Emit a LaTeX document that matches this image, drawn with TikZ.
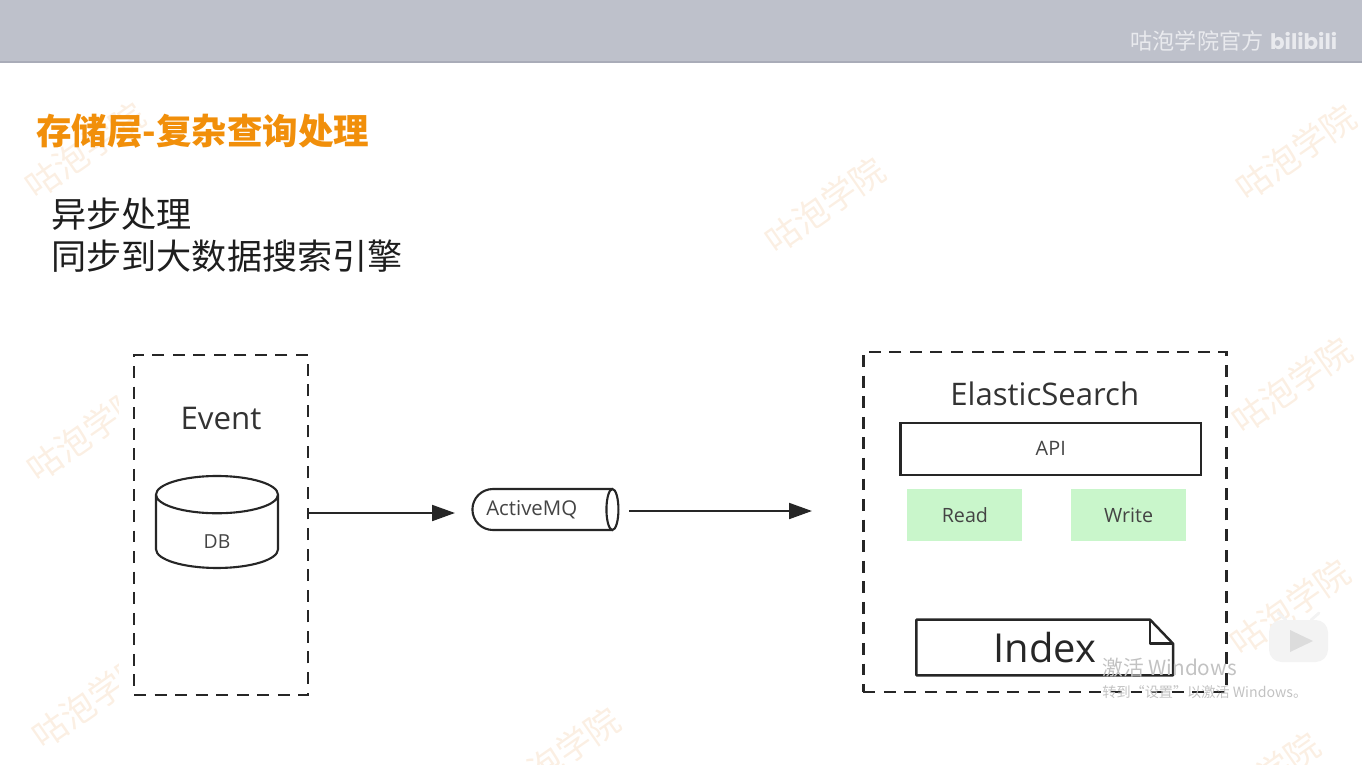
\documentclass[tikz,border=0pt]{standalone}
\usepackage{fontspec}
\setmainfont{Open Sans}
\newfontfamily\cjk{Noto Sans CJK SC}
\newfontfamily\logofont{Poppins}
\usepackage{xcolor}
\definecolor{cBand}  {HTML}{BEC1CB}
\definecolor{cEdge}  {HTML}{A9ACB8}
\definecolor{cPale}  {HTML}{E9EAEE}
\definecolor{cTitle} {HTML}{F18F0A}
\definecolor{cInk}   {HTML}{1E1E1E}
\definecolor{cLine}  {HTML}{262626}
\definecolor{cHead}  {HTML}{333333}
\definecolor{cText}  {HTML}{444444}
\definecolor{cGreen} {HTML}{C9F6CB}
\definecolor{cMark}  {HTML}{FBEFE3}
\definecolor{cActiv} {HTML}{C2C2C2}
\definecolor{cIcon}  {HTML}{F3F3F3}
\definecolor{cPlay}  {HTML}{DCDCDC}
\usepackage{tikz}
\usetikzlibrary{shapes.geometric, shapes.misc, arrows.meta, positioning, calc}
\tikzset{
  grp/.style  = {rectangle, draw=cLine, line width=1.6pt,
                 dash pattern=on 6.8pt off 4.9pt, inner sep=0pt},
  lbl/.style  = {inner sep=0pt, text=cHead, font=\fontsize{#1}{#1}\selectfont},
  lbl/.default = 11,
  blk/.style  = {rectangle, draw=cLine, line width=1.4pt, inner sep=0pt,
                 text=cText, font=\fontsize{11.3}{11.3}\selectfont},
  rw/.style   = {rectangle, fill=cGreen, inner sep=0pt,
                 minimum width=2.3cm, minimum height=1.04cm,
                 text=cText, font=\fontsize{11.2}{11.2}\selectfont},
  arr/.style  = {-{Triangle[length=13pt,width=9pt]}, draw=cLine, line width=1.3pt},
  wmark/.style = {rotate=35, text=cMark, inner sep=0pt,
                  font=\cjk\fontsize{19.5}{19.5}\selectfont},
}

\begin{document}
\begin{tikzpicture}[x=0.02cm, y=-0.02cm]
  \useasboundingbox (0,0) rectangle (1362,764);

  %% Top band
  \fill[cBand] (0,0) rectangle (1362,62);
  \fill[cEdge] (0,61) rectangle (1362,63);
  \node[inner sep=0pt, text=cPale, font=\cjk\fontsize{12.6}{12.6}\selectfont]
        (chan) at (1197,41) {咕泡学院官方};
  \node[inner sep=0pt, text=cPale, right=0.12cm of chan,
        font=\logofont\bfseries\fontsize{12.2}{12.2}\selectfont] (logo) {bilibili};

  %% Watermarks
  \foreach \wx/\wy in {85/150, 87/433, 92/700, 560/755, 825/205,
                       1296/152, 1292/385, 1290/607, 1260/780}
    \node[wmark] at (\wx,\wy) {咕泡学院};
  \fill[white] (119,340) rectangle (522,764);

  %% Headings
  \node[anchor=north west, inner sep=0pt, text=cTitle,
        font=\cjk\bfseries\fontsize{20.2}{20.2}\selectfont]
        (title) at (36,114) {存储层-复杂查询处理};
  \node[inner sep=0pt, text=cInk, align=left,
        font=\cjk\fontsize{20}{23.9}\selectfont,
        below=0.98cm of title.south west, anchor=north west, xshift=0.3cm]
        (sub) {异步处理\\同步到大数据搜索引擎};

  %% Left box
  \node[grp, minimum width=3.48cm, minimum height=6.8cm] (evbox) at (221,525) {};
  \node[lbl=17.8, below=1.06cm of evbox.north] (evt) {Event};
  \node[cylinder, shape border rotate=90, aspect=1.4, draw=cLine, line width=1.2pt,
        minimum width=2.44cm, minimum height=1.84cm, inner sep=0pt, text=cText,
        font=\fontsize{11}{11}\selectfont,
        below=0.9cm of evt, xshift=-0.08cm] (db) {\raisebox{-0.34cm}[0pt][0pt]{DB}};

  %% Queue
  \node[rounded rectangle, rounded rectangle right arc=none, draw=cLine,
        line width=1.2pt, minimum width=2.78cm, minimum height=0.82cm, inner sep=0pt,
        text=cText, font=\fontsize{11.6}{11.6}\selectfont,
        right=3.24cm of evbox, yshift=0.31cm] (mq) {\hspace*{-0.45cm}ActiveMQ};
  \draw[cLine, line width=1.2pt, fill=white] (mq.east) ellipse (6 and 20.5);

  %% Right box
  \node[grp, minimum width=7.26cm, minimum height=6.8cm,
        right=4.99cm of mq, yshift=-0.25cm] (esbox) {};
  \node[lbl=17.7, below=0.62cm of esbox.north] (es) {ElasticSearch};
  \node[blk, minimum width=6.02cm, minimum height=1.04cm,
        below=1.42cm of esbox.north, xshift=0.12cm] (api) {\raisebox{-0.14cm}[0pt][0pt]{API}};
  \node[rw, below=0.26cm of api.south west, anchor=north west, xshift=0.16cm] (read) {Read};
  \node[rw, below=0.26cm of api.south east, anchor=north east, xshift=-0.32cm] (write) {Write};
  \node[lbl=22.7, text=cLine, minimum width=5.12cm, minimum height=1.1cm,
        above=0.36cm of esbox.south] (idx) {Index};
  \draw[cLine, line width=1.4pt, line join=round]
        (idx.north west) -- ($(idx.north east)+(-23,0)$)
        -- ($(idx.north east)+(0,24)$) -- (idx.south east)
        -- (idx.south west) -- cycle;
  \draw[cLine, line width=1.4pt, line join=round]
        ($(idx.north east)+(-23,0)$) -- ($(idx.north east)+(-23,24)$)
        -- ($(idx.north east)+(0,24)$);

  %% Arrows
  \coordinate (mqin)  at (455,513);
  \coordinate (mqout) at (629,511);
  \coordinate (esin)  at (812,511);
  \draw[arr] (evbox.east |- mqin) -- (mqin);
  \draw[arr] (mqout) -- (esin);

  %% Player overlay
  \fill[cIcon, rounded corners=7pt] (1269,620) rectangle (1328,662);
  \draw[cIcon, line width=1.6pt, line cap=round] (1286,620) -- (1278,613) (1311,620) -- (1319,613);
  \fill[cPlay] (1290,630) -- (1313,641) -- (1290,652) -- cycle;
  \node[inner sep=0pt, anchor=west, text=cActiv, font=\cjk\fontsize{11.8}{11.8}\selectfont]
        (act) at (1102,668) {激活 Windows};
  \node[inner sep=0pt, anchor=west, text=cActiv, font=\cjk\fontsize{8.05}{8.05}\selectfont]
        (go) at (1102,692) {转到“设置”以激活 Windows。};
\end{tikzpicture}
\end{document}
